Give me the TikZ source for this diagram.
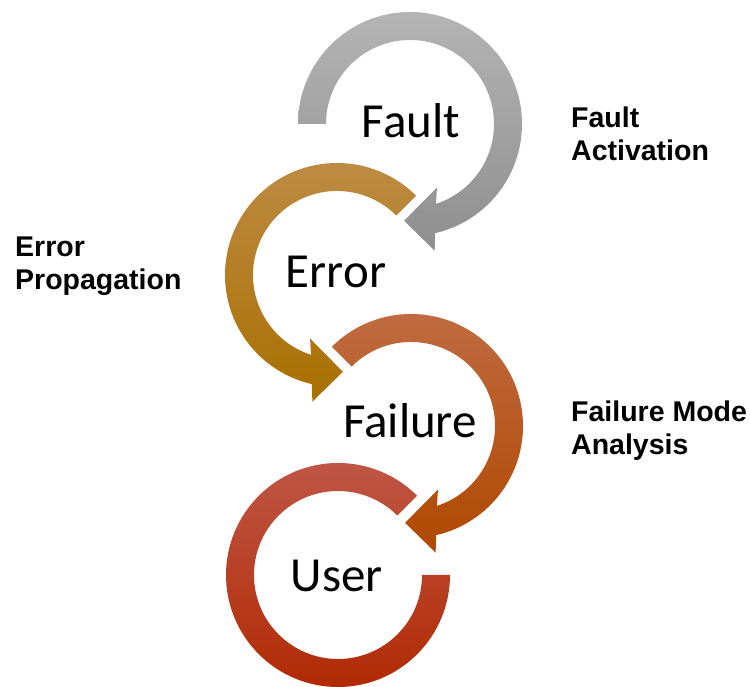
\documentclass[tikz,border=0pt]{standalone}
\usepackage{fontspec}
\setmainfont{Liberation Sans}
\newfontfamily\calibrifont{Carlito}
\usetikzlibrary{calc}

\definecolor{faultTop}{HTML}{B4B4B4}
\definecolor{faultBot}{HTML}{8E8E8E}
\definecolor{errorTop}{HTML}{BE8C46}
\definecolor{errorBot}{HTML}{A87000}
\definecolor{failTop}{HTML}{C06C44}
\definecolor{failBot}{HTML}{B04800}
\definecolor{userTop}{HTML}{C05848}
\definecolor{userBot}{HTML}{B02800}

\tikzset{
  faultfill/.style={top color=faultTop, bottom color=faultBot},
  errorfill/.style={top color=errorTop, bottom color=errorBot},
  failfill/.style={top color=failTop, bottom color=failBot},
  userfill/.style={top color=userTop, bottom color=userBot},
  bigword/.style={font=\calibrifont\fontsize{49}{49}\selectfont, inner sep=0pt, anchor=base},
  sidenote/.style={font=\bfseries\fontsize{28.5}{33}\selectfont, inner sep=0pt, align=left, anchor=base west},
}

% clockwise ring arrow: centre x, centre y, start angle, fill style
\newcommand\cwRingArrow[4]{%
  \begin{scope}[shift={(#1pt,#2pt)}]
    \shade[#4] (#3:112pt) arc[start angle=#3, end angle=-77, radius=112pt]
      -- (-79:129pt) -- (-93.5:97pt) -- (-67:69pt) -- (-72:84pt)
      arc[start angle=-72, end angle=#3, radius=84pt] -- cycle;
  \end{scope}}

% counter-clockwise ring arrow: centre x, centre y, start angle, fill style
\newcommand\ccwRingArrow[4]{%
  \begin{scope}[shift={(#1pt,#2pt)}]
    \shade[#4] (#3:112pt) arc[start angle=#3, end angle=257, radius=112pt]
      -- (259:129pt) -- (273.5:97pt) -- (247:69pt) -- (252:84pt)
      arc[start angle=252, end angle=#3, radius=84pt] -- cycle;
  \end{scope}}

\begin{document}
\begin{tikzpicture}
  \useasboundingbox (0pt,0pt) rectangle (750pt,687pt);

  % rings
  \cwRingArrow{410}{563}{180}{faultfill}
  \ccwRingArrow{337}{412}{45}{errorfill}
  \cwRingArrow{411}{261}{135}{failfill}
  \begin{scope}[shift={(338pt,112pt)}]
    \shade[userfill] (45:112pt) arc[start angle=45, end angle=360, radius=112pt]
      -- (0:84pt) arc[start angle=360, end angle=45, radius=84pt] -- cycle;
  \end{scope}

  % ring labels
  \node[bigword] (fault) at (411pt,549pt) {Fault};
  \node[bigword] (error) at (336pt,399pt) {Error};
  \node[bigword] (failure) at (410pt,249pt) {Failure};
  \node[bigword] (user) at (337pt,95pt) {User};

  % transition labels (anchored on the baseline of the second line)
  \node[sidenote] (activation) at (571pt,526pt) {Fault\\Activation};
  \node[sidenote] (propagation) at (15pt,397pt) {Error\\Propagation};
  \node[sidenote] (analysis) at (571pt,232pt) {Failure Mode\\Analysis};
\end{tikzpicture}
\end{document}
